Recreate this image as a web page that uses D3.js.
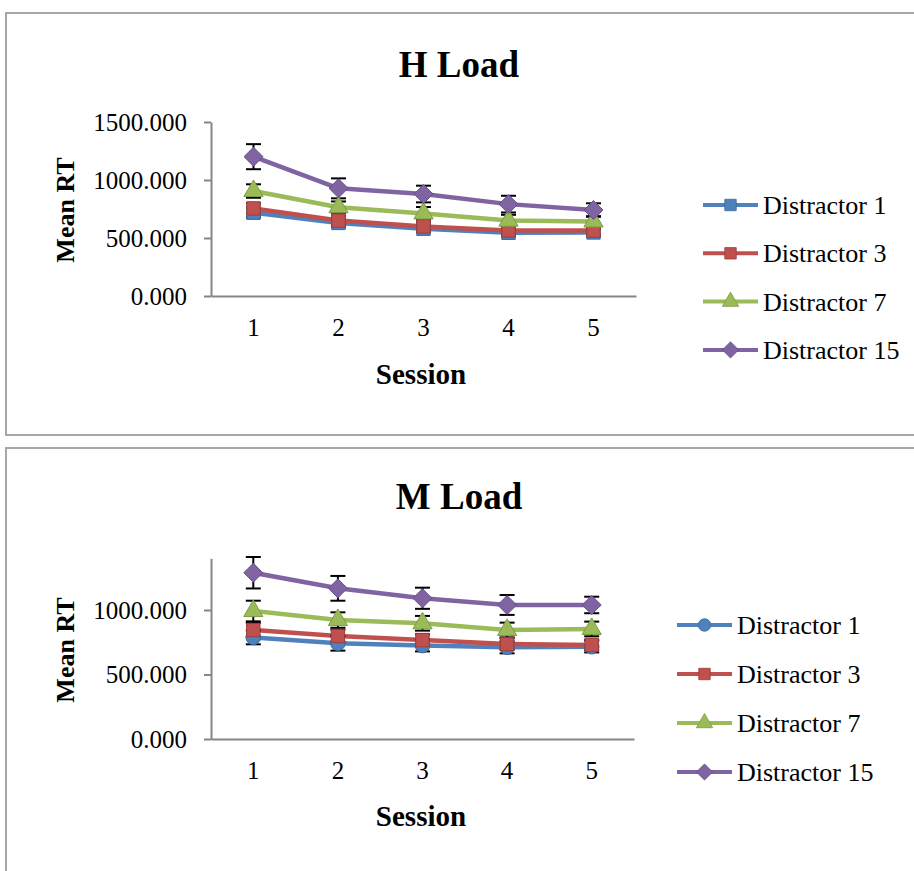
<!DOCTYPE html>
<html><head><meta charset="utf-8">
<script src="https://cdn.jsdelivr.net/npm/d3@7/dist/d3.min.js"></script>
<style>body{margin:0;background:#fff}svg{display:block}</style>
</head><body>
<svg id="c" width="914" height="871"></svg>
<script>
const sessions = [1, 2, 3, 4, 5];
const seriesNames = ["Distractor 1", "Distractor 3", "Distractor 7", "Distractor 15"];
const colors = ["#4F81BD", "#C0504D", "#9BBB59", "#8064A2"];
const strokeColors = ["#3A6A9F", "#A03C39", "#7F9C44", "#66508A"];

// H Load
const hTitle = "H Load";
const hTicks = [0, 500, 1000, 1500];
const hD1 = [718, 630, 580, 545, 548];
const hD3 = [755, 650, 600, 565, 565];
const hD7 = [905, 765, 712, 650, 643];
const hD15 = [1201, 928, 879, 792, 741];
const hE1 = [40, 35, 30, 30, 30];
const hE3 = [45, 40, 35, 35, 35];
const hE7 = [58, 50, 55, 50, 45];
const hE15 = [108, 86, 72, 72, 58];
const hMarkers = ["square", "square", "triangle", "diamond"];

// M Load
const mTitle = "M Load";
const mTicks = [0, 500, 1000];
const mD1 = [788, 742, 725, 711, 716];
const mD3 = [845, 798, 767, 736, 729];
const mD7 = [992, 922, 897, 845, 853];
const mD15 = [1289, 1168, 1091, 1039, 1039];
const mE1 = [54, 57, 46, 47, 45];
const mE3 = [55, 50, 45, 45, 40];
const mE7 = [80, 60, 57, 57, 57];
const mE15 = [122, 96, 82, 77, 64];
const mMarkers = ["circle", "square", "triangle", "diamond"];

const svg = d3.select("#c");
const serif = "'Liberation Serif','Times New Roman',serif";

const diamondSym = {draw(ctx, size) { const r = Math.sqrt(size / 2); ctx.moveTo(0, -r); ctx.lineTo(r, 0); ctx.lineTo(0, r); ctx.lineTo(-r, 0); ctx.closePath(); }};
function markerPath(type) {
  const sym = {square: d3.symbolSquare, circle: d3.symbolCircle, triangle: d3.symbolTriangle, diamond: diamondSym}[type];
  const size = {square: 180, circle: 170, triangle: 160, diamond: 180}[type];
  return d3.symbol(sym, size)();
}

function drawChart(cfg) {
  const g = svg.append("g");
  g.append("rect").attr("x", 6).attr("y", cfg.frameTop).attr("width", 1000).attr("height", cfg.frameH)
    .attr("fill", "none").attr("stroke", "#a6a6a6").attr("stroke-width", 2);

  const x = d3.scaleBand().domain(sessions).range([cfg.x0, cfg.x1]);
  const cx = d => x(d) + x.bandwidth() / 2;
  const y = d3.scaleLinear().domain([0, cfg.yMax]).range([cfg.yBottom, cfg.yTop]);

  const ya = g.append("g").attr("transform", `translate(${cfg.x0},0)`)
    .call(d3.axisLeft(y).tickValues(cfg.ticks).tickFormat(d3.format(".3f")).tickSize(7).tickPadding(17).tickSizeOuter(0));
  ya.select(".domain").attr("stroke", "#868686").attr("stroke-width", 2);
  ya.selectAll(".tick line").attr("stroke", "#868686").attr("stroke-width", 2);
  ya.selectAll("text").attr("font-family", serif).attr("font-size", 25).attr("fill", "#000");
  const xa = g.append("g").attr("transform", `translate(0,${cfg.yBottom})`)
    .call(d3.axisBottom(x).tickSize(0).tickPadding(22));
  xa.select(".domain").attr("stroke", "#868686").attr("stroke-width", 2);
  xa.selectAll("text").attr("font-family", serif).attr("font-size", 25).attr("fill", "#000");

  g.append("text").attr("x", 459).attr("y", cfg.titleY).attr("text-anchor", "middle")
    .attr("font-family", serif).attr("font-weight", "bold").attr("font-size", 37).text(cfg.title);
  g.append("text").attr("x", 421).attr("y", cfg.sessionY).attr("text-anchor", "middle")
    .attr("font-family", serif).attr("font-weight", "bold").attr("font-size", 29).text("Session");
  g.append("text").attr("transform", `translate(74,${cfg.meanY}) rotate(-90)`).attr("text-anchor", "middle")
    .attr("font-family", serif).attr("font-weight", "bold").attr("font-size", 26).text("Mean RT");

  const line = d3.line().x((d, i) => cx(sessions[i])).y(d => y(d));
  cfg.data.forEach((vals, s) => {
    g.append("path").datum(vals).attr("d", line).attr("fill", "none")
      .attr("stroke", colors[s]).attr("stroke-width", 4.5).attr("stroke-linejoin", "round");
  });
  cfg.data.forEach((vals, s) => {
    const eg = g.append("g").attr("stroke", "#000").attr("stroke-width", 2);
    vals.forEach((v, i) => {
      const e = cfg.err[s][i], px = cx(sessions[i]);
      eg.append("line").attr("x1", px).attr("x2", px).attr("y1", y(v - e)).attr("y2", y(v + e));
      eg.append("line").attr("x1", px - 7.5).attr("x2", px + 7.5).attr("y1", y(v - e)).attr("y2", y(v - e));
      eg.append("line").attr("x1", px - 7.5).attr("x2", px + 7.5).attr("y1", y(v + e)).attr("y2", y(v + e));
    });
  });
  cfg.data.forEach((vals, s) => {
    g.selectAll(null).data(vals).enter().append("path")
      .attr("d", markerPath(cfg.markers[s]))
      .attr("transform", (d, i) => `translate(${cx(sessions[i])},${y(d)})`)
      .attr("fill", colors[s]).attr("stroke", strokeColors[s]).attr("stroke-width", 1);
  });

  const lg = g.append("g");
  seriesNames.forEach((n, s) => {
    const ly = cfg.legY + s * cfg.legStep;
    lg.append("line").attr("x1", cfg.legX).attr("x2", cfg.legX + 55).attr("y1", ly).attr("y2", ly)
      .attr("stroke", colors[s]).attr("stroke-width", 4);
    lg.append("path").attr("d", markerPath(cfg.markers[s])).attr("transform", `translate(${cfg.legX + 27.5},${ly}) scale(0.85)`)
      .attr("fill", colors[s]).attr("stroke", strokeColors[s]).attr("stroke-width", 1);
    lg.append("text").attr("x", cfg.legX + 60).attr("y", ly).attr("dy", "0.35em")
      .attr("font-family", serif).attr("font-size", 26).attr("fill", "#000").text(n);
  });
}

drawChart({
  title: hTitle, frameTop: 13, frameH: 422, x0: 211, x1: 636, yTop: 122, yBottom: 296, yMax: 1500,
  ticks: hTicks, titleY: 77, sessionY: 384, meanY: 210,
  data: [hD1, hD3, hD7, hD15], err: [hE1, hE3, hE7, hE15], markers: hMarkers,
  legX: 703, legY: 205, legStep: 48.3
});
drawChart({
  title: mTitle, frameTop: 448, frameH: 1000, x0: 211, x1: 634, yTop: 739 - 1400 * 64.5 / 500, yBottom: 739, yMax: 1400,
  ticks: mTicks, titleY: 509, sessionY: 826, meanY: 650,
  data: [mD1, mD3, mD7, mD15], err: [mE1, mE3, mE7, mE15], markers: mMarkers,
  legX: 677, legY: 625, legStep: 49
});
</script>
</body></html>
